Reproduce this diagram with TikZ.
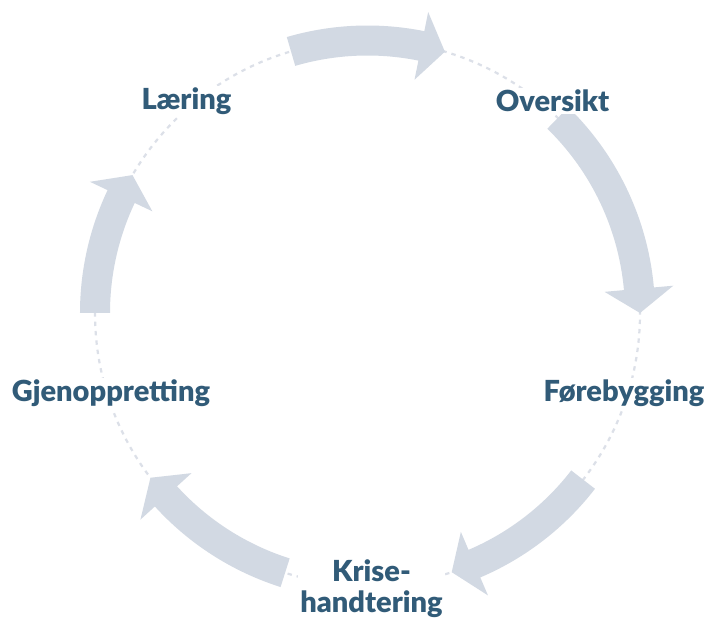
\documentclass[tikz,border=0pt]{standalone}
\usepackage{fontspec}
\setmainfont{Lato}[BoldFont={Lato Black}]
\definecolor{arrowc}{HTML}{D2D9E3}
\definecolor{txtc}{HTML}{315B78}
\definecolor{dashc}{HTML}{DCE0E8}
\newcommand\cyclearrow[3]{%
  \fill[arrowc] (#1:287.5) arc[start angle=#1, end angle=#3, radius=287.5]
    -- (#3:307) -- (#2:272.5) -- (#3:238) -- (#3:257.5)
    arc[start angle=#3, end angle=#1, radius=257.5] -- cycle;}
\begin{document}
\begin{tikzpicture}[x=0.5pt,y=0.5pt,
  steplabel/.style={font=\bfseries\fontsize{14.5}{15.5}\selectfont, text=txtc, fill=white, inner sep=1pt, anchor=base, align=center}]
\useasboundingbox[fill=white] (-367.5,-311) rectangle (342.5,313);
\draw[dashc, line width=1.1pt, dash pattern=on 2.2pt off 2.5pt] (0,0) circle[radius=272.5];
\cyclearrow{106.3}{73.5}{78.6}
\cyclearrow{45.7}{0}{5.1}
\cyclearrow{-37.7}{-72}{-66.9}
\cyclearrow{-107.6}{-142.8}{-137.7}
\cyclearrow{180}{149.6}{154.7}
\node[steplabel] (laering) at (-181,203) {Læring};
\node[steplabel] (oversikt) at (185,201.3) {Oversikt};
\node[steplabel] (forebygging) at (256.5,-88.7) {Førebygging};
\node[steplabel] (krise) at (4,-299.5) {Krise-\\handtering};
\node[steplabel] (gjenoppretting) at (-256.5,-88.7) {Gjenoppretting};
\end{tikzpicture}
\end{document}
